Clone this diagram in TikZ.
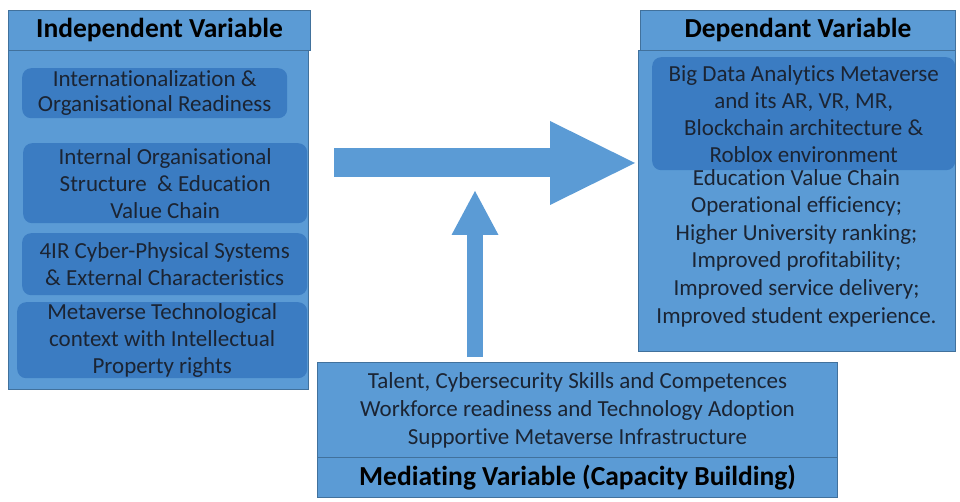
\documentclass[tikz,border=0pt]{standalone}
\usepackage{fontspec}
\setmainfont{Carlito}[Ligatures=NoCommon]
\usepackage{xcolor}
\usetikzlibrary{arrows.meta}

\definecolor{panelblue}{HTML}{5B9BD5}
\definecolor{innerblue}{HTML}{3B7CC2}
\definecolor{edgeblue}{HTML}{41719C}
\definecolor{inkblue}{HTML}{1B2433}
\newcommand{\bodyfont}{\fontsize{23}{27}\selectfont}
\newcommand{\titlefont}{\fontsize{27.5}{30}\selectfont\bfseries}

\tikzset{
  panel/.style={draw=edgeblue, fill=panelblue, line width=1pt, anchor=north west, inner sep=0pt},
  headbox/.style={panel, font=\titlefont, text=black},
  innerbox/.style={fill=innerblue, rounded corners=9pt, anchor=north west, inner sep=0pt, align=center, text=inkblue, font=\bodyfont},
  plaintext/.style={align=center, text=inkblue, font=\bodyfont},
  bigarrow/.style={draw=panelblue, line width=#1}
}

\begin{document}
\begin{tikzpicture}[x=1pt, y=-1pt]
        \useasboundingbox (0,0) rectangle (960,502);

        % independent variable
        \node[panel, minimum width=300, minimum height=339] (indepbody) at (8,50) {};
        \node[headbox, minimum width=302, minimum height=40] (indephead) at (8,10) {Independent Variable};
        \node[innerbox, minimum width=265, minimum height=50, font=\fontsize{23}{25}\selectfont] (intlready) at (22,68)
            {Internationalization \&\\Organisational Readiness};
        \node[innerbox, minimum width=284, minimum height=80] (internal) at (23,143)
            {Internal Organisational\\Structure \ \& Education\\Value Chain};
        \node[innerbox, minimum width=285, minimum height=62] (cyberphys) at (22,233)
            {4IR Cyber-Physical Systems\\\& External Characteristics};
        \node[innerbox, minimum width=290, minimum height=76] (techctx) at (17,302)
            {Metaverse Technological\\context with Intellectual\\Property rights};

        % dependant variable
        \node[panel, minimum width=317, minimum height=301] (depbody) at (638,50) {};
        \node[headbox, minimum width=315, minimum height=40] (dephead) at (640,10) {Dependant Variable};
        \node[innerbox, minimum width=303, minimum height=113] (bigdata) at (652,57)
            {Big Data Analytics Metaverse\\and its AR, VR, MR,\\Blockchain architecture \&\\Roblox environment};
        \node[plaintext, font=\fontsize{23}{27.6}\selectfont] (outcomes) at (796.5,248)
            {Education Value Chain\\Operational efficiency;\\Higher University ranking;\\Improved profitability;\\Improved service delivery;\\Improved student experience.};

        % mediating variable
        \node[panel, minimum width=520, minimum height=95, align=center, text=inkblue, font=\fontsize{23}{28}\selectfont] (medbody) at (317,362)
            {Talent, Cybersecurity Skills and Competences\\Workforce readiness and Technology Adoption\\Supportive Metaverse Infrastructure};
        \node[headbox, minimum width=520, minimum height=40] (medhead) at (317,457)
            {Mediating Variable (Capacity Building)};

        % arrows
        \coordinate (hstart) at (334,163);
        \coordinate (vbase) at (475,357);
        \coordinate (vtip) at (475,191);
        \draw[bigarrow=29pt, -{Triangle[length=85pt, width=84pt, line width=0pt, color=panelblue]}]
            (hstart) -- ([xshift=-3pt]depbody.west |- hstart);
        \draw[bigarrow=16pt, -{Triangle[length=44pt, width=47pt, line width=0pt, color=panelblue]}]
            (vbase) -- (vtip);
    \end{tikzpicture}
\end{document}
